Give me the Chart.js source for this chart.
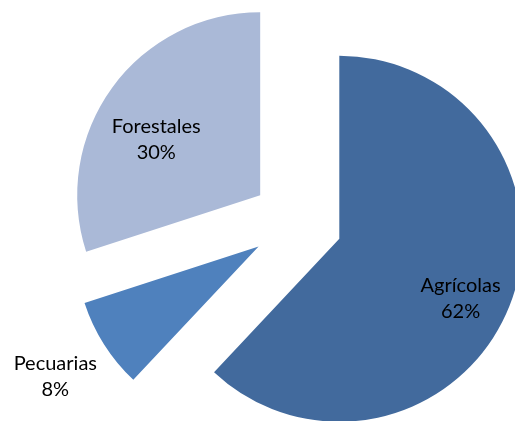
<!DOCTYPE html>
<html>
<head>
<meta charset="utf-8">
<script src="https://cdn.jsdelivr.net/npm/chart.js@4/dist/chart.umd.min.js"></script>
<style>
  html, body { margin: 0; padding: 0; background: #fff; }
  canvas { display: block; }
</style>
</head>
<body>
<canvas id="pieChart" width="515" height="421"></canvas>
<script>
// datos del gráfico
const categorias = ['Agrícolas', 'Pecuarias', 'Forestales'];
const porcentajes = [62, 8, 30];
const colores = ['#426A9D', '#4F81BD', '#AAB9D7'];

// posición de las etiquetas (fracción del radio y giro en grados respecto al centro de la porción)
const etiquetaRadio = [0.74, 1.32, 0.645];
const etiquetaGiro = [4.8, -0.3, -7.7];

const separacion = 45.5; // desplazamiento de cada porción (explotada)

const explodePlugin = {
    id: 'explodeSlices',
    afterUpdate(chart) {
        const meta = chart.getDatasetMeta(0);
        meta.data.forEach(arc => {
            const mid = (arc.startAngle + arc.endAngle) / 2;
            arc.x += Math.cos(mid) * separacion;
            arc.y += Math.sin(mid) * separacion;
        });
    }
};

const labelPlugin = {
    id: 'sliceLabels',
    afterDatasetsDraw(chart) {
        const ctx = chart.ctx;
        const meta = chart.getDatasetMeta(0);
        ctx.save();
        ctx.font = '20px Lato, "Open Sans", sans-serif';
        ctx.fillStyle = '#000';
        ctx.textAlign = 'center';
        ctx.textBaseline = 'middle';
        meta.data.forEach((arc, i) => {
            const mid = (arc.startAngle + arc.endAngle) / 2 + etiquetaGiro[i] * Math.PI / 180;
            const r = arc.outerRadius * etiquetaRadio[i];
            const x = arc.x + Math.cos(mid) * r;
            const y = arc.y + Math.sin(mid) * r;
            ctx.fillText(categorias[i], x, y - 13);
            ctx.fillText(porcentajes[i] + '%', x, y + 13);
        });
        ctx.restore();
    }
};

new Chart(document.getElementById('pieChart').getContext('2d'), {
    type: 'pie',
    data: {
        labels: categorias,
        datasets: [{
            data: porcentajes,
            backgroundColor: colores,
            borderWidth: 0,
            clip: false
        }]
    },
    options: {
        responsive: false,
        animation: false,
        radius: 183,
        layout: {
            padding: { left: 79, right: 0, top: 23, bottom: 0 }
        },
        plugins: {
            legend: { display: false },
            tooltip: { enabled: false }
        }
    },
    plugins: [explodePlugin, labelPlugin]
});
</script>
</body>
</html>
